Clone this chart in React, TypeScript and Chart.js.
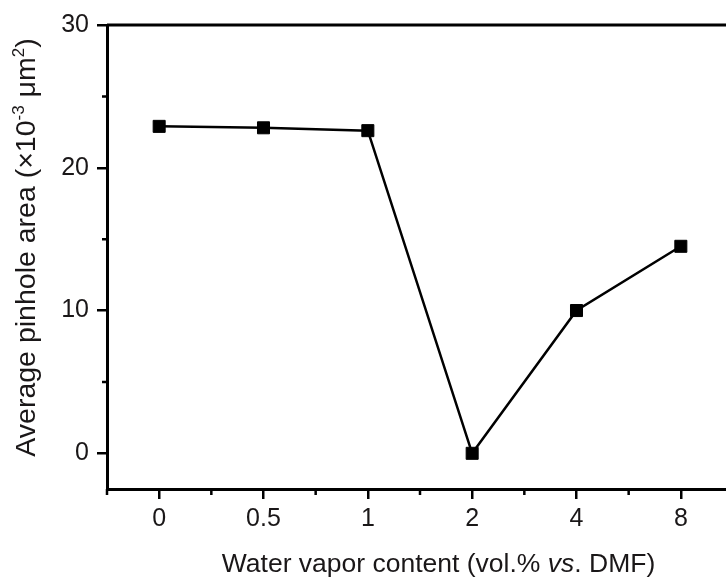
import React, { useEffect, useRef } from "react";
import { Chart, registerables } from "chart.js";

Chart.register(...registerables);

// ---- data ----
const categories = ["0", "0.5", "1", "2", "4", "8"];
const pinholeArea = [22.9, 22.8, 22.6, 0, 10, 14.5];
const yMajorTicks = [0, 10, 20, 30];
const yMinorTicks = [5, 15, 25];
const yMin = -2.5;
const yMax = 30;

const xTitleParts = [
  { text: "Water vapor content (vol.% ", italic: false },
  { text: "vs", italic: true },
  { text: ". DMF)", italic: false },
];
const yTitleParts = [
  { text: "Average pinhole area (×10", sup: false },
  { text: "-3", sup: true },
  { text: " μm", sup: false },
  { text: "2", sup: true },
  { text: ")", sup: false },
];

const FONT = '"Liberation Sans", Arial, Helvetica, sans-serif';
const TEXT = "#1a1718";

const decorPlugin = {
  id: "decor",
  afterDraw(chart: any) {
    const ctx = chart.ctx as CanvasRenderingContext2D;
    const { left, right, top, bottom } = chart.chartArea;
    const xs = chart.scales.x;
    const ys = chart.scales.y;
    ctx.save();
    ctx.strokeStyle = "#000";
    ctx.lineWidth = 3;
    ctx.beginPath();
    // top frame line
    ctx.moveTo(left, top);
    ctx.lineTo(right, top);
    ctx.stroke();
    ctx.lineWidth = 2.5;
    ctx.beginPath();
    // minor x ticks (between categories)
    const half = (xs.getPixelForValue(1) - xs.getPixelForValue(0)) / 2;
    for (let k = 0; k <= categories.length; k++) {
      const px = xs.getPixelForValue(Math.min(k, categories.length - 1)) + (k === categories.length ? half : -half);
      ctx.moveTo(px, bottom);
      ctx.lineTo(px, bottom + 6);
    }
    // minor y ticks
    for (const v of yMinorTicks) {
      const py = ys.getPixelForValue(v);
      ctx.moveTo(left, py);
      ctx.lineTo(left - 5, py);
    }
    ctx.stroke();

    // x title with italic part
    ctx.fillStyle = TEXT;
    ctx.textBaseline = "alphabetic";
    ctx.textAlign = "left";
    const xSize = 26.5;
    let total = 0;
    for (const p of xTitleParts) {
      ctx.font = `${p.italic ? "italic " : ""}${xSize}px ${FONT}`;
      total += ctx.measureText(p.text).width;
    }
    let cx = 438.5 - total / 2;
    for (const p of xTitleParts) {
      ctx.font = `${p.italic ? "italic " : ""}${xSize}px ${FONT}`;
      ctx.fillText(p.text, cx, 572);
      cx += ctx.measureText(p.text).width;
    }

    // y title with superscripts
    const ySize = 28.5;
    const supSize = 17;
    ctx.save();
    ctx.translate(35, 247.5);
    ctx.rotate(-Math.PI / 2);
    total = 0;
    for (const p of yTitleParts) {
      ctx.font = `${p.sup ? supSize : ySize}px ${FONT}`;
      total += ctx.measureText(p.text).width;
    }
    let cy = -total / 2;
    for (const p of yTitleParts) {
      ctx.font = `${p.sup ? supSize : ySize}px ${FONT}`;
      ctx.fillText(p.text, cy, p.sup ? -11 : 0);
      cy += ctx.measureText(p.text).width;
    }
    ctx.restore();
    ctx.restore();
  },
};

export default function App() {
  const ref = useRef<HTMLCanvasElement | null>(null);

  useEffect(() => {
    document.documentElement.style.overflow = "hidden";
    document.body.style.margin = "0";
    document.body.style.overflow = "hidden";
    const canvas = ref.current;
    if (!canvas) return;
    const chart = new Chart(canvas, {
      type: "line",
      data: {
        labels: categories,
        datasets: [
          {
            data: pinholeArea,
            borderColor: "#000",
            backgroundColor: "#000",
            borderWidth: 2.5,
            pointStyle: "rect",
            pointRadius: 8.5,
            pointBorderWidth: 1,
            pointBackgroundColor: "#000",
            pointBorderColor: "#000",
            tension: 0,
            fill: false,
            clip: false as any,
          },
        ],
      },
      options: {
        responsive: false,
        animation: false,
        events: [],
        layout: { padding: { top: 25, right: 27, left: 0, bottom: 0 } },
        plugins: {
          legend: { display: false },
          tooltip: { enabled: false },
          title: { display: false },
        },
        scales: {
          x: {
            type: "category",
            offset: true,
            position: "bottom",
            grid: {
              display: true,
              drawOnChartArea: false,
              drawTicks: true,
              tickLength: 10,
              color: "#000",
              lineWidth: 2.5,
              offset: false,
            },
            border: { display: true, color: "#000", width: 3 },
            ticks: {
              color: TEXT,
              font: { family: FONT, size: 25 },
              padding: 5,
              maxRotation: 0,
              autoSkip: false,
            },
            afterFit: (scale: any) => {
              scale.height = 92;
            },
          },
          y: {
            type: "linear",
            min: yMin,
            max: yMax,
            grid: {
              display: true,
              drawOnChartArea: false,
              drawTicks: true,
              tickLength: 10,
              color: "#000",
              lineWidth: 2.5,
            },
            border: { display: true, color: "#000", width: 3 },
            ticks: {
              color: TEXT,
              font: { family: FONT, size: 25 },
              padding: 8,
              stepSize: 10,
            },
            afterBuildTicks: (scale: any) => {
              scale.ticks = yMajorTicks.map((v) => ({ value: v }));
            },
            afterFit: (scale: any) => {
              scale.width = 107;
            },
          },
        },
      },
      plugins: [decorPlugin],
    });
    return () => chart.destroy();
  }, []);

  return (
    <div style={{ width: 760, height: 581, overflow: "hidden" }}>
      <canvas ref={ref} width={760} height={581} style={{ display: "block" }} />
    </div>
  );
}
